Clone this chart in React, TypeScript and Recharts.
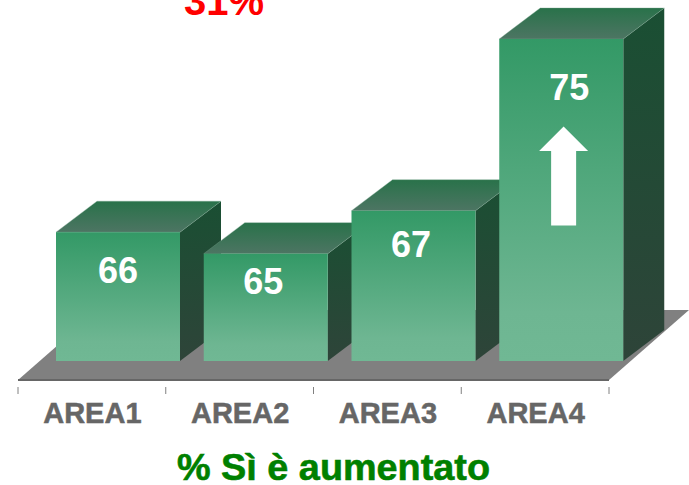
import React from "react";
import { BarChart, Bar, XAxis, YAxis, ReferenceArea, ReferenceDot, LabelList } from "recharts";

const categories = ["AREA1", "AREA2", "AREA3", "AREA4"];
const values = [66, 65, 67, 75];
const headline = "31%";
const caption = "% Sì è aumentato";

const rows = categories.map((area, i) => ({ area, value: values[i] }));

const W = 689, H = 485;
const BAR_SHIFT = 26;
const BAR_LIFT = 19;
const DX = 41, DY = 31;
const BAND = 591 / 4;
const LABEL_NUDGE = [
  { dx: 26, dy: 38 },
  { dx: 23.5, dy: 27 },
  { dx: 23.5, dy: 33.5 },
  { dx: 34, dy: 48 },
];

function Box3D(props: any) {
  const { x, y, width, height } = props;
  const l = x + BAR_SHIFT, r = l + width, b = y + height - BAR_LIFT;
  return (
    <g>
      <polygon points={`${r},${y} ${r + DX},${y - DY} ${r + DX},${b - DY} ${r},${b}`} fill="url(#sideG)" />
      <polygon
        points={`${l},${y} ${l + DX},${y - DY} ${r + DX},${y - DY} ${r},${y}`}
        fill="url(#topG)"
        stroke="#7fa893"
        strokeOpacity={0.6}
        strokeWidth={0.6}
      />
      <rect x={l} y={y} width={width} height={b - y} fill="url(#frontG)" />
    </g>
  );
}

function Floor(props: any) {
  const { x, y, width, height } = props;
  const b = y + height;
  return (
    <polygon points={`${x},${b} ${x + width},${b} ${x + width + 80},${y} ${x + 80},${y}`} fill="#808080" />
  );
}

function Arrow(props: any) {
  const { cx, cy } = props;
  const c = cx + 28.5;
  return (
    <polygon
      fill="#ffffff"
      points={`${c},${cy} ${c + 24.5},${cy + 24.5} ${c + 12.5},${cy + 24.5} ${c + 12.5},${cy + 99} ${c - 12.5},${cy + 99} ${c - 12.5},${cy + 24.5} ${c - 24.5},${cy + 24.5}`}
    />
  );
}

function Tick(props: any) {
  const { x, y, payload, index } = props;
  const left = x - BAND / 2;
  return (
    <g>
      <line x1={left} x2={left} y1={y - 1} y2={y + 6} stroke="#808080" />
      {index === categories.length - 1 && (
        <line x1={left + BAND} x2={left + BAND} y1={y - 1} y2={y + 6} stroke="#808080" />
      )}
      <text
        x={x + 0.5}
        y={422.5}
        textAnchor="middle"
        fontFamily="Liberation Sans"
        fontWeight="bold"
        fontSize={29}
        fill="#666666"
        stroke="#666666"
        strokeWidth={0.5}
      >
        {payload.value}
      </text>
    </g>
  );
}

function ValueLabel(props: any) {
  const { x, y, width, value, index } = props;
  const n = LABEL_NUDGE[index];
  return (
    <text
      x={x + width / 2 + n.dx}
      y={y + n.dy + 13}
      textAnchor="middle"
      fontFamily="Liberation Sans"
      fontWeight="bold"
      fontSize={36}
      fill="#ffffff"
    >
      {value}
    </text>
  );
}

export default function App() {
  return (
    <div style={{ position: "absolute", left: 0, top: 0, width: W, height: H }}>
      <BarChart
        width={W}
        height={H}
        data={rows}
        margin={{ top: 0, left: 18, right: 80, bottom: 45 }}
        barSize={124}
      >
        <defs>
          <linearGradient id="frontG" x1="0" y1="0" x2="0" y2="1">
            <stop offset="0" stopColor="#339966" />
            <stop offset="0.85" stopColor="#6eb692" />
            <stop offset="1" stopColor="#70b894" />
          </linearGradient>
          <linearGradient id="sideG" x1="0" y1="0" x2="0" y2="1">
            <stop offset="0" stopColor="#1a4f33" />
            <stop offset="1" stopColor="#2e4439" />
          </linearGradient>
          <linearGradient id="topG" x1="0" y1="0" x2="0" y2="1">
            <stop offset="0" stopColor="#29724a" />
            <stop offset="1" stopColor="#4d7563" />
          </linearGradient>
        </defs>
        <XAxis
          dataKey="area"
          height={60}
          axisLine={{ stroke: "#666666", strokeWidth: 2 }}
          tickLine={false}
          tick={<Tick />}
          interval={0}
        />
        <YAxis hide domain={[59.115, 76.815]} />
        <ReferenceArea y1={59.115} y2={62.375} shape={<Floor />} ifOverflow="visible" />
        <Bar dataKey="value" isAnimationActive={false} shape={<Box3D />}>
          <LabelList dataKey="value" content={<ValueLabel />} />
        </Bar>
        <ReferenceDot x="AREA4" y={70.92} shape={<Arrow />} ifOverflow="visible" />
        <text
          x={224}
          y={15}
          textAnchor="middle"
          fontFamily="Liberation Sans"
          fontWeight="bold"
          fontSize={40}
          fill="#ff0000"
        >
          {headline}
        </text>
        <text
          x={333.5}
          y={480}
          textAnchor="middle"
          fontFamily="Liberation Sans"
          fontWeight="bold"
          fontSize={37.8}
          fill="#008000"
          stroke="#008000"
          strokeWidth={0.6}
        >
          {caption}
        </text>
      </BarChart>
    </div>
  );
}
